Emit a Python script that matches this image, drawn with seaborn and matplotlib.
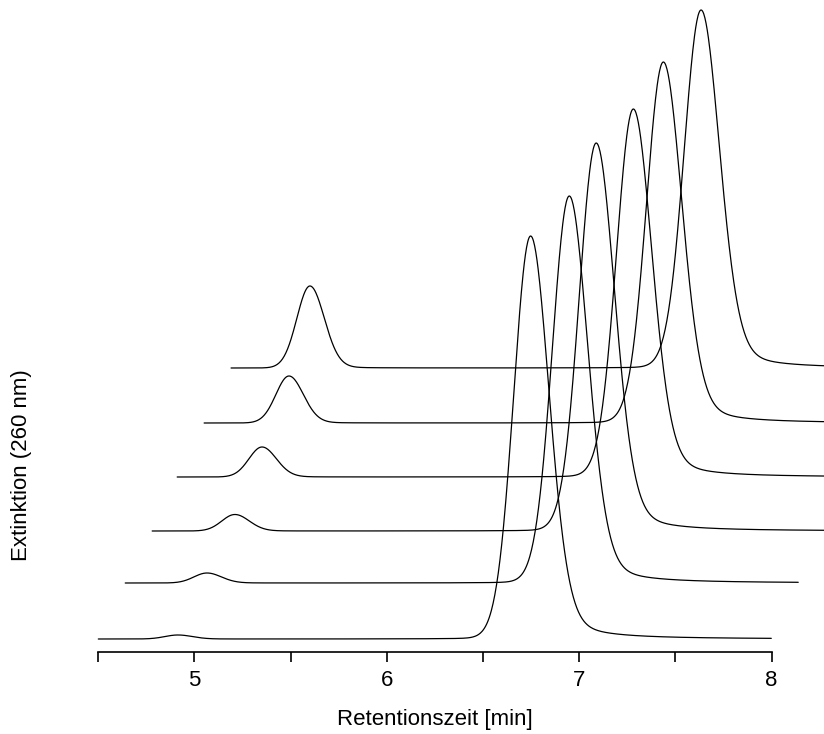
import numpy as np
import pandas as pd
import matplotlib
matplotlib.use("Agg")
import matplotlib.pyplot as plt
import seaborn as sns

# one chromatogram per injection, stacked with an offset
run_start = [4.50, 4.64, 4.78, 4.91, 5.05, 5.19]   # min
run_length = 3.5                                   # min
baseline = [13, 69, 121, 175, 229, 284]            # offset of each trace
main_rt = [6.747, 6.948, 7.088, 7.281, 7.437, 7.633]
main_height = [403, 387, 388, 368, 361, 358]
side_rt = [4.914, 5.065, 5.210, 5.351, 5.491, 5.600]
side_height = [4, 10, 16.5, 30, 47, 82]

xticks = [5, 6, 7, 8]


def peak(x, mu, h, sl, sr, eta_l, eta_r):
    d = x - mu
    s = np.where(d < 0, sl, sr)
    eta = np.where(d < 0, eta_l, eta_r)
    g = np.exp(-0.5 * (d / s) ** 2)
    gam = s * 1.1774
    lor = gam ** 2 / (d ** 2 + gam ** 2)
    return h * ((1 - eta) * g + eta * lor)


frames = []
for i in range(len(run_start)):
    t = np.arange(run_start[i], run_start[i] + run_length, 0.003)
    y = (baseline[i]
         + peak(t, main_rt[i], main_height[i], 0.088, 0.098, 0.02, 0.2)
         + peak(t, side_rt[i], side_height[i], 0.068, 0.075, 0.0, 0.05))
    frames.append(pd.DataFrame({"t": t, "y": y, "run": i}))
df = pd.concat(frames)

sns.set_style("white")
plt.rcParams["font.family"] = ["Liberation Sans", "DejaVu Sans"]
plt.rcParams["text.color"] = "black"
plt.rcParams["axes.labelcolor"] = "black"
plt.rcParams["xtick.color"] = "black"

fig = plt.figure(figsize=(8.24, 7.34), dpi=100)
ax = fig.add_axes([0.1193, 0.1117, 0.8172, 0.8883])

for i, d in df.groupby("run"):
    sns.lineplot(data=d, x="t", y="y", ax=ax, color="black", lw=0.9,
                 estimator=None, sort=False, clip_on=False)

ax.set_xlim(4.5, 8.0)
ax.set_ylim(0, 652)
ax.set_xticks(xticks)
ax.set_xticks([4.5, 5.5, 6.5, 7.5], minor=True)
ax.tick_params(axis="x", which="both", direction="out", length=7, width=1.2,
               color="black", labelcolor="black", bottom=True, labelsize=16,
               pad=6)
ax.set_yticks([])
for side in ["left", "right", "top"]:
    ax.spines[side].set_visible(False)
ax.spines["bottom"].set_color("black")
ax.spines["bottom"].set_linewidth(1.2)

ax.set_xlabel("Retentionszeit [min]", fontsize=16, labelpad=13, color="black")
ax.set_ylabel("")
fig.text(22 / 824, 1 - 465 / 734, "Extinktion (260 nm)", rotation=90,
         ha="center", va="center", fontsize=16, color="black")

plt.savefig("out.png", dpi=100)
